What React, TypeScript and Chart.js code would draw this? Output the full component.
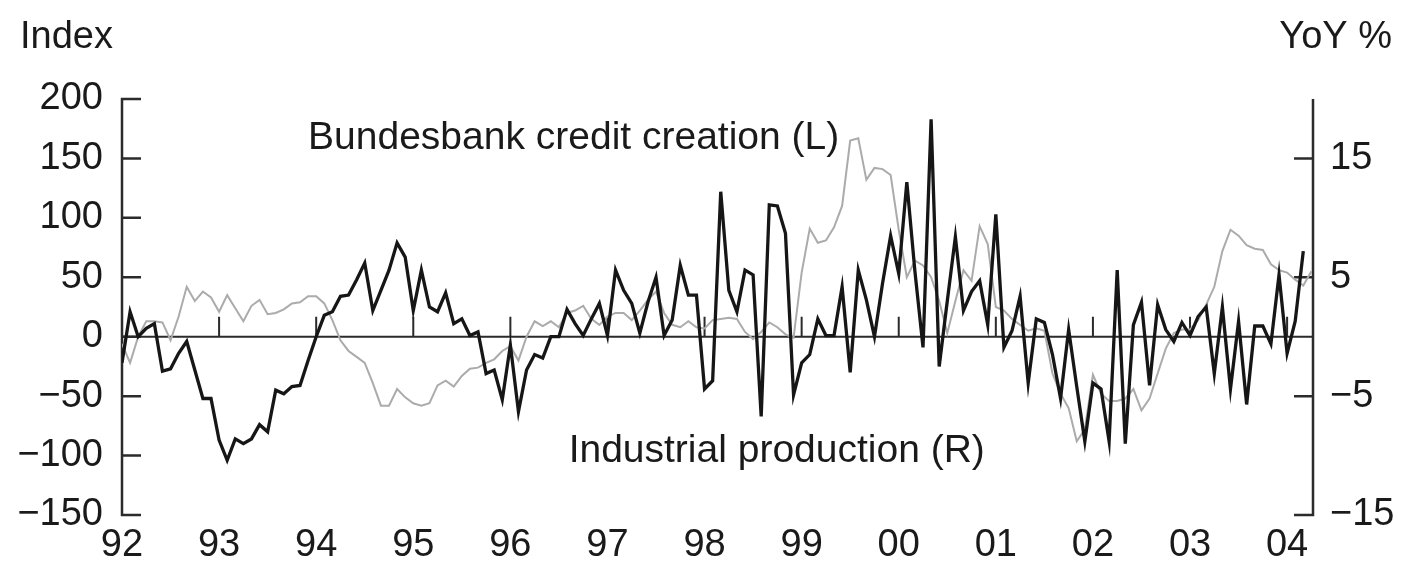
import React, { useEffect, useRef } from 'react';
import { Chart, registerables } from 'chart.js';

Chart.register(...registerables);

// ---- data ----
const yearLabels = ['92', '93', '94', '95', '96', '97', '98', '99', '00', '01', '02', '03', '04'];
const leftTicks = [-150, -100, -50, 0, 50, 100, 150, 200];
const rightTicks = [-15, -5, 5, 15];

// Bundesbank credit creation, index (left axis), monthly from Jan 1992
const creditCreation = [
  -6, -22, 0, 13, 13, 12, -3, 17, 42, 30,
  38, 33, 21, 35, 24, 13, 26, 31, 19, 20,
  23, 28, 29, 34, 34, 28, 14, -3, -12, -17,
  -22, -39, -58, -58, -44, -51, -56, -58, -56, -41,
  -37, -42, -33, -27, -26, -22, -19, -12, -8, -20,
  0, 13, 9, 13, 8, 20, 22, 26, 15, 10,
  17, 20, 20, 14, 22, 31, 38, 20, 10, 8,
  13, 8, 7, 14, 15, 16, 15, 4, -2, 4,
  12, 8, 2, -1, 54, 91, 79, 81, 92, 110,
  165, 167, 132, 142, 141, 136, 90, 50, 64, 60,
  50, 30, 3, 30, 56, 47, 93, 78, 25, 22,
  15, 10, 5, 7, 5, -31, -48, -60, -88, -78,
  -32, -48, -54, -54, -52, -44, -62, -52, -31, -10,
  3, 6, 6, 14, 27, 42, 72, 90, 85, 77,
  74, 73, 61, 56, 54, 48, 43, 55,
];

// Industrial production, YoY % (right axis), monthly from Jan 1992
const industrialProduction = [
  -2.2, 2.1, 0, 0.7, 1.1, -2.9, -2.7, -1.4, -0.4, -2.8,
  -5.2, -5.2, -8.7, -10.4, -8.6, -9.0, -8.6, -7.4, -8.0, -4.5,
  -4.8, -4.2, -4.1, -2.0, 0, 1.8, 2.1, 3.4, 3.5, 4.8,
  6.2, 2.2, 3.9, 5.6, 7.9, 6.7, 2.2, 5.6, 2.5, 2.1,
  3.7, 1.1, 1.5, 0.1, 0.4, -3.1, -2.8, -5.3, -0.7, -6.3,
  -2.8, -1.5, -1.8, 0, 0, 2.3, 1.1, 0.1, 1.5, 2.8,
  0.1, 5.6, 3.9, 2.8, 0.3, 2.9, 5.0, 0.1, 1.4, 6.0,
  3.5, 3.5, -4.4, -3.7, 12.2, 3.9, 2.1, 5.6, 5.2, -6.7,
  11.1, 11.0, 8.7, -4.9, -2.2, -1.5, 1.5, 0.1, 0.1, 4.2,
  -3.0, 5.6, 3.1, 0, 4.5, 8.5, 5.3, 13.0, 5.5, -0.9,
  18.3, -2.5, 3.0, 8.4, 2.2, 3.8, 4.7, 1.0, 10.3, -0.9,
  0.5, 3.4, -3.9, 1.5, 1.2, -1.5, -5.2, 0.6, -4.2, -8.8,
  -3.9, -4.4, -8.8, 5.6, -9.0, 1.0, 2.9, -4.1, 2.7, 0.6,
  -0.4, 1.2, 0.1, 1.7, 2.5, -3.1, 2.5, -4.4, 1.3, -5.7,
  0.9, 0.9, -0.6, 5.2, -1.4, 1.3, 7.2,
];

const FONT = "'Liberation Sans', Arial, Helvetica, sans-serif";
const TEXT = '#1a1a1a';
const AXIS = '#2b2b2b';
const fmt = (v: number) => (v < 0 ? '\u2212' + Math.abs(v) : String(v));

const decor = {
  id: 'decor',
  beforeDatasetsDraw(chart: any) {
    const { ctx, chartArea: a, scales } = chart;
    const x = scales.x, yl = scales.yL, yr = scales.yR;
    ctx.save();
    ctx.strokeStyle = AXIS;
    ctx.lineWidth = 2.5;
    ctx.lineCap = 'butt';
    ctx.beginPath();
    // left axis + inward ticks
    ctx.moveTo(a.left, yl.getPixelForValue(200) - 1.2);
    ctx.lineTo(a.left, yl.getPixelForValue(-150) + 1.2);
    leftTicks.forEach((v) => {
      const y = yl.getPixelForValue(v);
      ctx.moveTo(a.left, y);
      ctx.lineTo(a.left + 19, y);
    });
    // right axis + inward ticks
    ctx.moveTo(a.right, a.top);
    ctx.lineTo(a.right, yr.getPixelForValue(-15) + 1.2);
    rightTicks.forEach((v) => {
      const y = yr.getPixelForValue(v);
      ctx.moveTo(a.right, y);
      ctx.lineTo(a.right - 19, y);
    });
    ctx.stroke();
    // zero line and year ticks
    ctx.lineWidth = 2;
    ctx.beginPath();
    const y0 = yl.getPixelForValue(0);
    ctx.moveTo(a.left, y0);
    ctx.lineTo(a.right, y0);
    yearLabels.forEach((_, i) => {
      if (i === 0) return;
      const px = x.getPixelForValue(i * 12);
      ctx.moveTo(px, y0);
      ctx.lineTo(px, y0 - 20);
    });
    ctx.stroke();
    ctx.restore();
  },
  afterDraw(chart: any) {
    const { ctx, scales } = chart;
    const x = scales.x, yl = scales.yL, yr = scales.yR;
    ctx.save();
    ctx.fillStyle = TEXT;
    ctx.font = `38px ${FONT}`;
    ctx.textBaseline = 'alphabetic';
    ctx.textAlign = 'left';
    ctx.fillText('Index', 20, 48);
    ctx.textAlign = 'right';
    ctx.fillText('YoY %', 1392, 48);
    ctx.textAlign = 'left';
    ctx.font = `39px ${FONT}`;
    ctx.fillText('Bundesbank credit creation (L)', x.getPixelForValue(23.0), yl.getPixelForValue(158));
    ctx.fillText('Industrial production (R)', x.getPixelForValue(55.2), yr.getPixelForValue(-10.5));
    ctx.restore();
  },
};

export default function App() {
  const ref = useRef<HTMLCanvasElement | null>(null);

  useEffect(() => {
    document.body.style.margin = '0';
    const canvas = ref.current;
    if (!canvas) return;
    const chart = new Chart(canvas, {
      type: 'line',
      data: {
        datasets: [
          {
            label: 'Industrial production (R)',
            data: industrialProduction.map((v, i) => ({ x: i, y: v })),
            yAxisID: 'yR',
            borderColor: '#161616',
            borderWidth: 3.3,
            pointRadius: 0,
            tension: 0,
            borderJoinStyle: 'miter',
            order: 0,
          },
          {
            label: 'Bundesbank credit creation (L)',
            data: creditCreation.map((v, i) => ({ x: i, y: v })),
            yAxisID: 'yL',
            borderColor: '#ababab',
            borderWidth: 2,
            pointRadius: 0,
            tension: 0,
            order: 1,
          },
        ],
      },
      options: {
        responsive: false,
        animation: false,
        events: [],
        layout: { padding: { top: 99, left: 0, right: 0, bottom: 0 } },
        plugins: { legend: { display: false }, tooltip: { enabled: false } },
        scales: {
          x: {
            type: 'linear',
            position: 'bottom',
            min: 0,
            max: 147.2,
            afterBuildTicks: (s: any) => {
              s.ticks = yearLabels.map((_, i) => ({ value: i * 12 }));
            },
            afterFit: (s: any) => {
              s.height = 52;
            },
            grid: { display: false, drawTicks: false },
            border: { display: false },
            ticks: {
              autoSkip: false,
              maxRotation: 0,
              padding: 8,
              color: TEXT,
              font: { family: FONT, size: 38 },
              callback: (v: any) => yearLabels[Math.round(Number(v) / 12)],
            },
          },
          yL: {
            type: 'linear',
            position: 'left',
            min: -150,
            max: 200,
            afterBuildTicks: (s: any) => {
              s.ticks = leftTicks.map((v) => ({ value: v }));
            },
            afterFit: (s: any) => {
              s.width = 122;
            },
            grid: { display: false, drawTicks: false },
            border: { display: false },
            ticks: {
              padding: 19,
              color: TEXT,
              font: { family: FONT, size: 38 },
              callback: (v: any) => fmt(Number(v)),
            },
          },
          yR: {
            type: 'linear',
            position: 'right',
            min: -15,
            max: 20,
            afterBuildTicks: (s: any) => {
              s.ticks = rightTicks.map((v) => ({ value: v }));
            },
            afterFit: (s: any) => {
              s.width = 92;
            },
            grid: { display: false, drawTicks: false },
            border: { display: false },
            ticks: {
              padding: 17,
              color: TEXT,
              font: { family: FONT, size: 38 },
              callback: (v: any) => fmt(Number(v)),
            },
          },
        },
      },
      plugins: [decor],
    });
    return () => chart.destroy();
  }, []);

  return (
    <div style={{ width: 1405, height: 567 }}>
      <canvas ref={ref} width={1405} height={567} style={{ display: 'block' }} />
    </div>
  );
}
